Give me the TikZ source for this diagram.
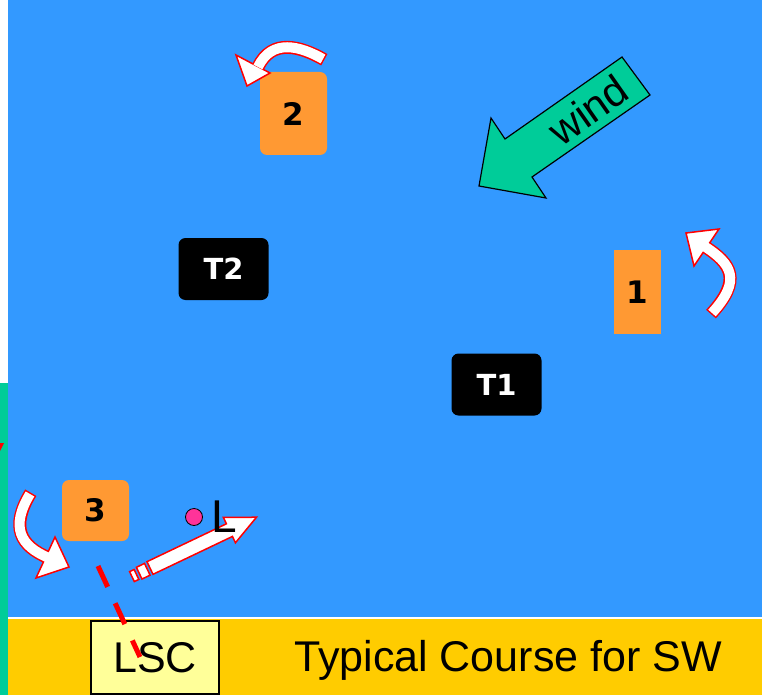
\documentclass[tikz,border=0pt]{standalone}
\usepackage{fontspec}
\setmainfont{Liberation Sans}
\newfontfamily\markFont{DejaVu Sans}
\usepackage{tikz}
\usetikzlibrary{positioning}
\tikzstyle{course} = [x = 1pt, y = -1pt]
\definecolor{seaColor}{RGB}{51,153,255}
\definecolor{windColor}{RGB}{0,204,153}
\definecolor{markColor}{RGB}{255,153,51}
\definecolor{bandColor}{RGB}{255,204,0}
\definecolor{lscColor}{RGB}{255,255,153}
\definecolor{pinColor}{RGB}{255,51,153}
\tikzstyle{markStyle} = [fill=markColor, rounded corners = 7pt, inner sep = 0pt, font=\markFont\bfseries\fontsize{31}{31}\selectfont]
\tikzstyle{targetStyle} = [fill=black, text=white, rounded corners = 7pt, inner sep = 0pt, font=\markFont\bfseries\fontsize{29}{29}\selectfont]
\tikzstyle{turnOuter} = [color=red, line width = 13pt]
\tikzstyle{turnInner} = [color=white, line width = 10pt]
\tikzstyle{turnHead} = [fill=white, draw=red, line width = 1.5pt]
\tikzstyle{startArrow} = [fill=white, draw=red, line width = 1.5pt]
\tikzstyle{windStyle} = [fill=windColor, draw=black, line width = 1.2pt]
\tikzstyle{bigText} = [font=\fontsize{43}{43}\selectfont]
\tikzstyle{startLine} = [color=red, line width = 5pt, dash pattern = on 23pt off 18pt]
\newcommand{\markBox}[6]{\node [markStyle, minimum width = #4pt, minimum height = #5pt] (#1) at (#2,#3) {#6};}
\newcommand{\targetBox}[4]{\node [targetStyle, minimum width = 90pt, minimum height = 62pt] (#1) at (#2,#3) {#4};}
\newcommand{\turnArrow}[2]{
  \draw [turnOuter, shorten <= -1.5pt] #1;
  \filldraw [turnHead] #2 -- cycle;
  \draw [turnInner] #1;
}

\begin{document}
\begin{tikzpicture}[course]
        \useasboundingbox (0,0) rectangle (767,695);
        % background
        \fill [white] (0,0) rectangle (767,695);
        \fill [windColor] (0,383) rectangle (8,695);
        \fill [red] (0,443) -- (4,443) -- (0,451) -- cycle;
        \fill [seaColor] (8,0) rectangle (762,617);
        \fill [bandColor] (8,619) rectangle (762,695);

        % marks and targets
        \markBox{markTwo}{293.5}{113.5}{67}{83}{2}
        \node [markStyle, rounded corners = 0pt, minimum width = 47pt, minimum height = 84pt] (markOne) at (637.5,292) {1};
        \markBox{markThree}{95.5}{510.5}{67}{61}{3}
        \targetBox{targetTwo}{223.5}{269}{T2}
        \targetBox{targetOne}{496.5}{384.5}{T1}

        % roundings
        \turnArrow{(323,59) .. controls (300,46) and (272,38) .. (258,67)}{(236,55) -- (247,86) -- (270,73)}
        \turnArrow{(712,313) .. controls (742,280) and (732,264) .. (704,246)}{(686,233) -- (719,229) -- (694,266)}
        \turnArrow{(30,494) .. controls (10,527) and (20,546) .. (49,558)}{(69,567) -- (55,537) -- (36,578)}

        % wind
        \filldraw [windStyle] (479,186) -- (491,118) -- (505,139) -- (622,57) -- (650,95) -- (532,177) -- (546,198) -- cycle;
        \node [rotate = 35, font=\fontsize{42}{42}\selectfont] (windLabel) at (588,110) {wind};

        % start
        \begin{scope}[shift = {(150,568)}, rotate = 25.5]
          \filldraw [startArrow] (0,-7) -- (88,-7) -- (88,-14) -- (118,0) -- (88,14) -- (88,7) -- (0,7) -- cycle;
          \filldraw [startArrow] (-12,-6.5) rectangle (-3,6.5);
          \filldraw [startArrow] (-20,-5.5) rectangle (-15,5.5);
        \end{scope}
        \node [circle, fill=pinColor, draw=black, thick, minimum size = 17pt, inner sep = 0pt] (pin) at (194,517) {};
        \node [right = 8pt of pin, font=\fontsize{46}{46}\selectfont, inner sep = 0pt] (pinLabel) {L};

        % band
        \node [draw=black, fill=lscColor, line width = 1.5pt, minimum width = 128pt, minimum height = 73pt, bigText] (lsc) at (155,657.5) {LSC};
        \node [bigText] (title) at (508,660) {Typical Course for SW};

        \coordinate (lineTop) at (98,566);
        \coordinate (lineEnd) at (140,657);
        \draw [startLine] (lineTop) -- (lineEnd);
      \end{tikzpicture}
\end{document}
